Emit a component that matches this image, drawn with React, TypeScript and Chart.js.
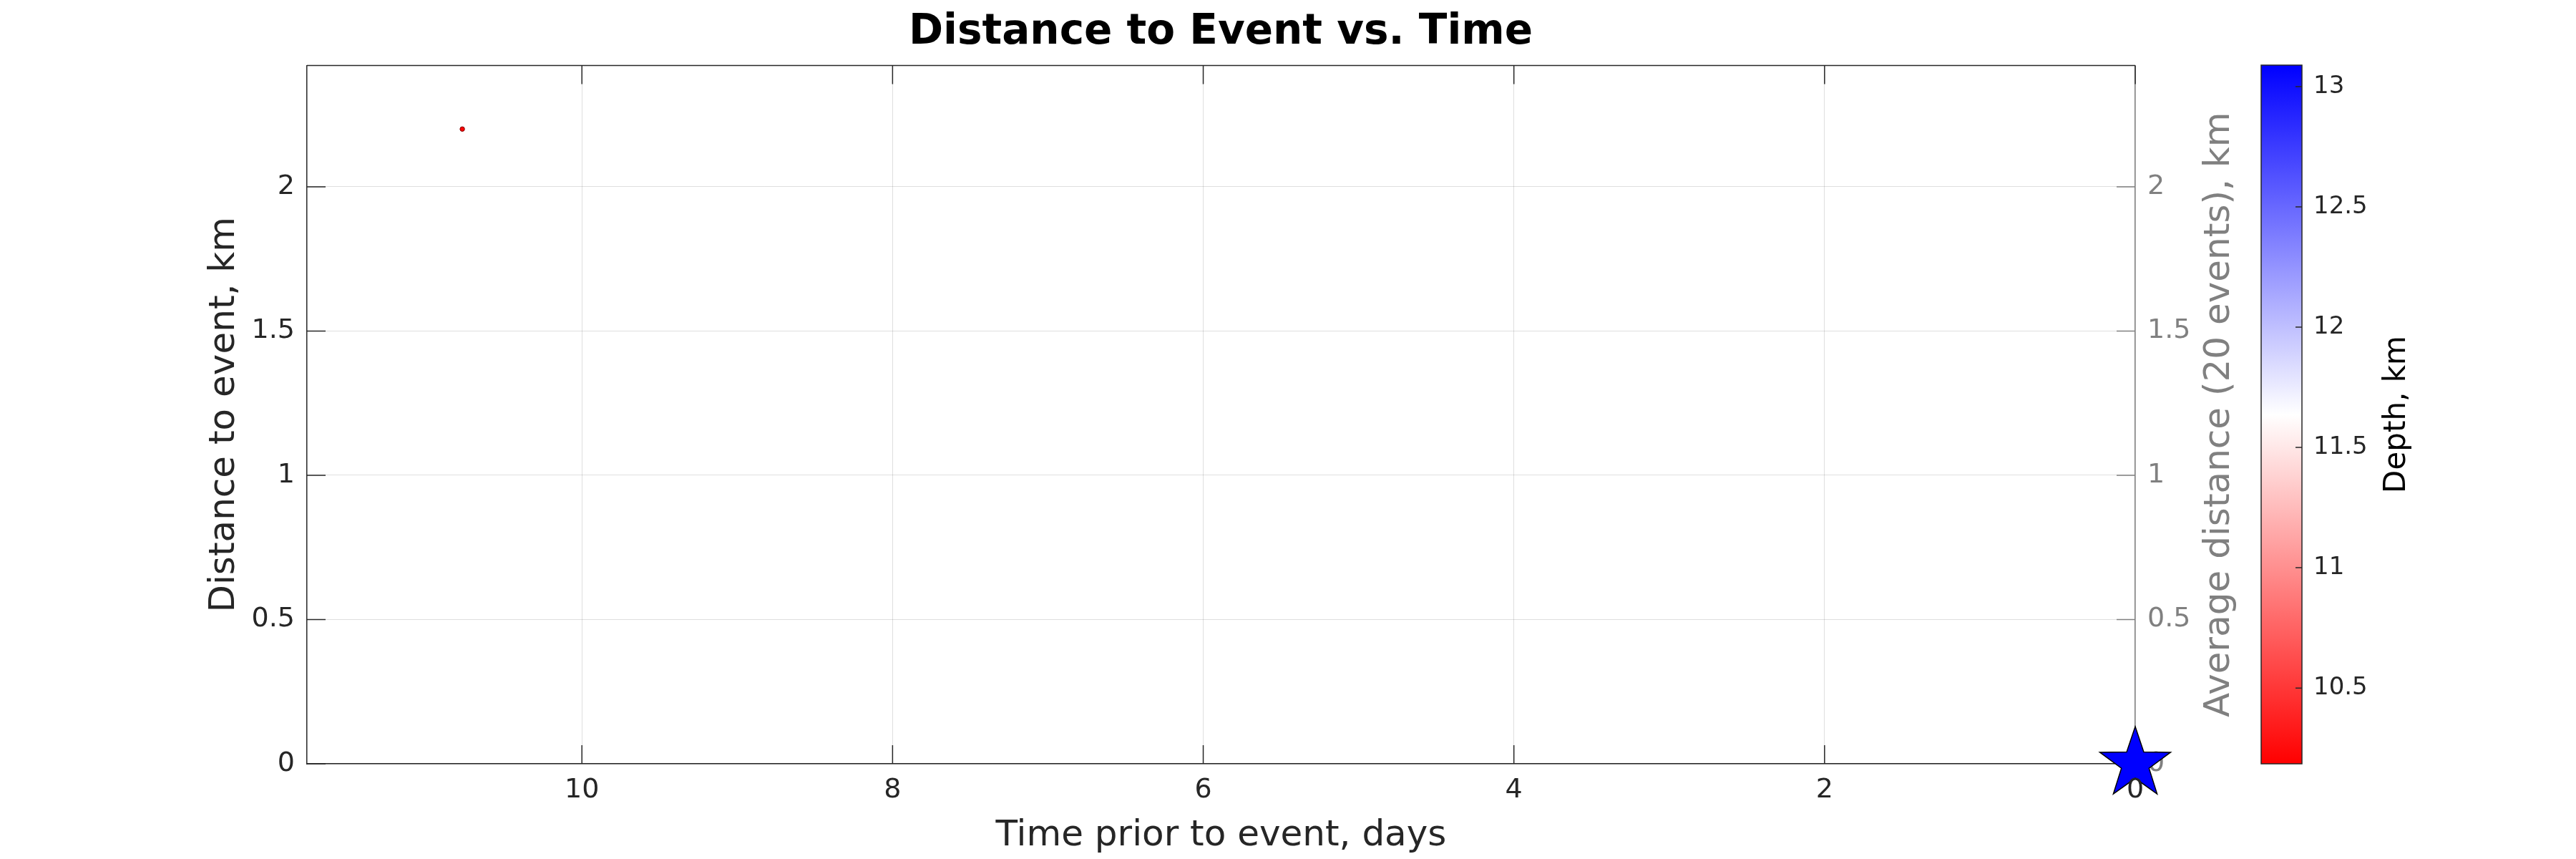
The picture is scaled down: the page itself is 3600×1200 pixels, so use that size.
import React, { useEffect, useRef } from "react";
import { Chart, registerables } from "chart.js";

Chart.register(...registerables);

// ---------- data ----------
const TITLE = "Distance to Event vs. Time";
const X_LABEL = "Time prior to event, days";
const Y_LABEL = "Distance to event, km";
const Y2_LABEL = "Average distance (20 events), km";
const CB_LABEL = "Depth, km";

const EVENT_TIME_DAYS = [10.77];
const EVENT_DIST_KM = [2.2];
const EVENT_DEPTH_KM = [10.2];

const MAIN_TIME_DAYS = [0];
const MAIN_DIST_KM = [0];

const X_TICKS = [0, 2, 4, 6, 8, 10];
const Y_TICKS = [0, 0.5, 1, 1.5, 2];
const CB_TICKS = [10.5, 11, 11.5, 12, 12.5, 13];

const X_LIMITS = [0, 11.77];
const Y_LIMITS = [0, 2.42];
const DEPTH_LIMITS = [10.185, 13.089];
const CB_CATEGORY = [""];

// ---------- styles ----------
const FONT = "DejaVu Sans";
const DARK = "#262626";
const GRAY = "#808080";
const GRID = "rgba(38,38,38,0.15)";

function depthColor(d: number): string {
  const [lo, hi] = DEPTH_LIMITS;
  const mid = (lo + hi) / 2;
  const clamp = (v: number) => Math.max(0, Math.min(1, v));
  if (d <= mid) {
    const c = Math.round(255 * clamp((d - lo) / (mid - lo)));
    return `rgb(255,${c},${c})`;
  }
  const c = Math.round(255 * (1 - clamp((d - mid) / (hi - mid))));
  return `rgb(${c},${c},255)`;
}

function makeStar(R: number): HTMLCanvasElement {
  const r = R * 0.39;
  const size = Math.ceil(2 * R + 6);
  const c = document.createElement("canvas");
  c.width = size;
  c.height = size;
  const g = c.getContext("2d")!;
  g.translate(size / 2, size / 2);
  g.beginPath();
  for (let i = 0; i < 10; i++) {
    const rad = i % 2 === 0 ? R : r;
    const a = -Math.PI / 2 + (i * Math.PI) / 5;
    const px = rad * Math.cos(a);
    const py = rad * Math.sin(a);
    if (i === 0) g.moveTo(px, py);
    else g.lineTo(px, py);
  }
  g.closePath();
  g.fillStyle = "#0000ff";
  g.fill();
  g.lineWidth = 1.5;
  g.strokeStyle = "#000000";
  g.stroke();
  return c;
}

const setTicks = (vals: number[]) => (s: any) => {
  s.ticks = vals.map((v) => ({ value: v }));
};
const plainLabel = (v: any) => `${v}`;

const axesPlugin = {
  id: "matlabAxes",
  beforeDatasetsDraw(chart: any) {
    const { ctx, chartArea: a, scales } = chart;
    const TL = 26;
    ctx.save();
    ctx.lineWidth = 1.5;
    ctx.strokeStyle = DARK;
    ctx.beginPath();
    ctx.moveTo(a.left, a.top);
    ctx.lineTo(a.right, a.top);
    for (const t of scales.x.ticks) {
      const px = scales.x.getPixelForValue(t.value);
      ctx.moveTo(px, a.bottom);
      ctx.lineTo(px, a.bottom - TL);
      ctx.moveTo(px, a.top);
      ctx.lineTo(px, a.top + TL);
    }
    for (const t of scales.y.ticks) {
      const py = scales.y.getPixelForValue(t.value);
      ctx.moveTo(a.left, py);
      ctx.lineTo(a.left + TL, py);
    }
    ctx.stroke();
    ctx.strokeStyle = GRAY;
    ctx.beginPath();
    for (const t of scales.y2.ticks) {
      const py = scales.y2.getPixelForValue(t.value);
      ctx.moveTo(a.right, py);
      ctx.lineTo(a.right - TL, py);
    }
    ctx.stroke();
    ctx.restore();
  },
  afterDraw(chart: any) {
    const { ctx, chartArea: a } = chart;
    ctx.save();
    ctx.translate(3102, (a.top + a.bottom) / 2);
    ctx.rotate(-Math.PI / 2);
    ctx.font = `50px "${FONT}"`;
    ctx.fillStyle = GRAY;
    ctx.textAlign = "center";
    ctx.textBaseline = "middle";
    ctx.fillText(Y2_LABEL, 0, 0);
    ctx.restore();
  },
};

const colorbarPlugin = {
  id: "colorbarFrame",
  afterDatasetsDraw(chart: any) {
    const { ctx, chartArea: a, scales } = chart;
    ctx.save();
    ctx.lineWidth = 1.5;
    ctx.strokeStyle = DARK;
    ctx.strokeRect(a.left, a.top, a.right - a.left, a.bottom - a.top);
    ctx.beginPath();
    for (const t of scales.y.ticks) {
      const py = scales.y.getPixelForValue(t.value);
      ctx.moveTo(a.right, py);
      ctx.lineTo(a.right - 9, py);
    }
    ctx.stroke();
    ctx.translate(250, (a.top + a.bottom) / 2);
    ctx.rotate(-Math.PI / 2);
    ctx.font = `42px "${FONT}"`;
    ctx.fillStyle = "#000";
    ctx.textAlign = "center";
    ctx.textBaseline = "middle";
    ctx.fillText(CB_LABEL, 0, 0);
    ctx.restore();
  },
};

export default function App() {
  const mainRef = useRef<HTMLCanvasElement>(null);
  const cbRef = useRef<HTMLCanvasElement>(null);

  useEffect(() => {
    document.body.style.margin = "0";
    const star = makeStar(52);

    const main = new Chart(mainRef.current!, {
      type: "scatter",
      data: {
        datasets: [
          {
            data: EVENT_TIME_DAYS.map((t, i) => ({ x: t, y: EVENT_DIST_KM[i] })),
            pointBackgroundColor: EVENT_DEPTH_KM.map(depthColor),
            pointBorderColor: "#7a0000",
            pointBorderWidth: 1,
            pointRadius: 3.2,
            xAxisID: "x",
            yAxisID: "y",
          },
          {
            data: MAIN_TIME_DAYS.map((t, i) => ({ x: t, y: MAIN_DIST_KM[i] })),
            pointStyle: star as any,
            pointRadius: 52,
            clip: false as any,
            xAxisID: "x",
            yAxisID: "y",
          },
        ],
      },
      options: {
        responsive: false,
        animation: false,
        devicePixelRatio: 1,
        events: [],
        layout: { padding: 0 },
        plugins: {
          legend: { display: false },
          tooltip: { enabled: false },
          title: {
            display: true,
            text: TITLE,
            color: "#000",
            font: { family: FONT, size: 58, weight: "bold" },
            padding: { top: 11, bottom: 11 },
          },
        },
        scales: {
          x: {
            type: "linear",
            position: "bottom",
            reverse: true,
            min: X_LIMITS[0],
            max: X_LIMITS[1],
            afterBuildTicks: setTicks(X_TICKS),
            afterFit: (s: any) => {
              s.height = 133;
            },
            ticks: { color: DARK, font: { family: FONT, size: 38 }, padding: 14, z: 1, callback: plainLabel },
            grid: { color: GRID, lineWidth: 1, drawTicks: false },
            border: { color: DARK, width: 1.5 },
            title: {
              display: true,
              text: X_LABEL,
              color: DARK,
              font: { family: FONT, size: 50 },
              padding: { top: 0, bottom: 2 },
            },
          },
          y: {
            type: "linear",
            position: "left",
            min: Y_LIMITS[0],
            max: Y_LIMITS[1],
            afterBuildTicks: setTicks(Y_TICKS),
            afterFit: (s: any) => {
              s.width = 429;
            },
            ticks: { color: DARK, font: { family: FONT, size: 38 }, padding: 17, callback: plainLabel },
            grid: { color: GRID, lineWidth: 1, drawTicks: false },
            border: { color: DARK, width: 1.5 },
            title: {
              display: true,
              text: Y_LABEL,
              color: DARK,
              font: { family: FONT, size: 50 },
              padding: { top: 284, bottom: 0 },
            },
          },
          y2: {
            type: "linear",
            position: "right",
            min: Y_LIMITS[0],
            max: Y_LIMITS[1],
            afterBuildTicks: setTicks(Y_TICKS),
            afterFit: (s: any) => {
              s.width = 428;
            },
            ticks: { color: GRAY, font: { family: FONT, size: 38 }, padding: 17, callback: plainLabel },
            grid: { display: false, drawTicks: false },
            border: { color: GRAY, width: 1.5 },
          },
        },
      } as any,
      plugins: [axesPlugin],
    });

    const cb = new Chart(cbRef.current!, {
      type: "bar",
      data: {
        labels: CB_CATEGORY,
        datasets: [
          {
            data: [DEPTH_LIMITS] as any,
            barPercentage: 1,
            categoryPercentage: 1,
            borderWidth: 0,
            backgroundColor: (c: any) => {
              const ch = c.chart;
              const ys = ch.scales && ch.scales.y;
              if (!ch.chartArea || !ys) return "#ffffff";
              const g = ch.ctx.createLinearGradient(
                0,
                ys.getPixelForValue(DEPTH_LIMITS[0]),
                0,
                ys.getPixelForValue(DEPTH_LIMITS[1])
              );
              g.addColorStop(0, depthColor(DEPTH_LIMITS[0]));
              g.addColorStop(0.5, "#ffffff");
              g.addColorStop(1, depthColor(DEPTH_LIMITS[1]));
              return g;
            },
          },
        ],
      },
      options: {
        responsive: false,
        animation: false,
        devicePixelRatio: 1,
        events: [],
        layout: { padding: { left: 60, top: 91, bottom: 133, right: 0 } },
        plugins: { legend: { display: false }, tooltip: { enabled: false } },
        scales: {
          x: { display: false },
          y: {
            type: "linear",
            position: "right",
            min: DEPTH_LIMITS[0],
            max: DEPTH_LIMITS[1],
            afterBuildTicks: setTicks(CB_TICKS),
            afterFit: (s: any) => {
              s.width = 383;
            },
            ticks: { color: DARK, font: { family: FONT, size: 34 }, padding: 16, callback: plainLabel },
            grid: { display: false, drawTicks: false },
            border: { display: false },
          },
        },
      } as any,
      plugins: [colorbarPlugin],
    });

    return () => {
      main.destroy();
      cb.destroy();
    };
  }, []);

  return (
    <div style={{ position: "relative", width: 3600, height: 1200, background: "#fff", overflow: "hidden" }}>
      <canvas ref={mainRef} width={3412} height={1200} style={{ position: "absolute", left: 0, top: 0 }} />
      <canvas ref={cbRef} width={500} height={1200} style={{ position: "absolute", left: 3100, top: 0 }} />
    </div>
  );
}
